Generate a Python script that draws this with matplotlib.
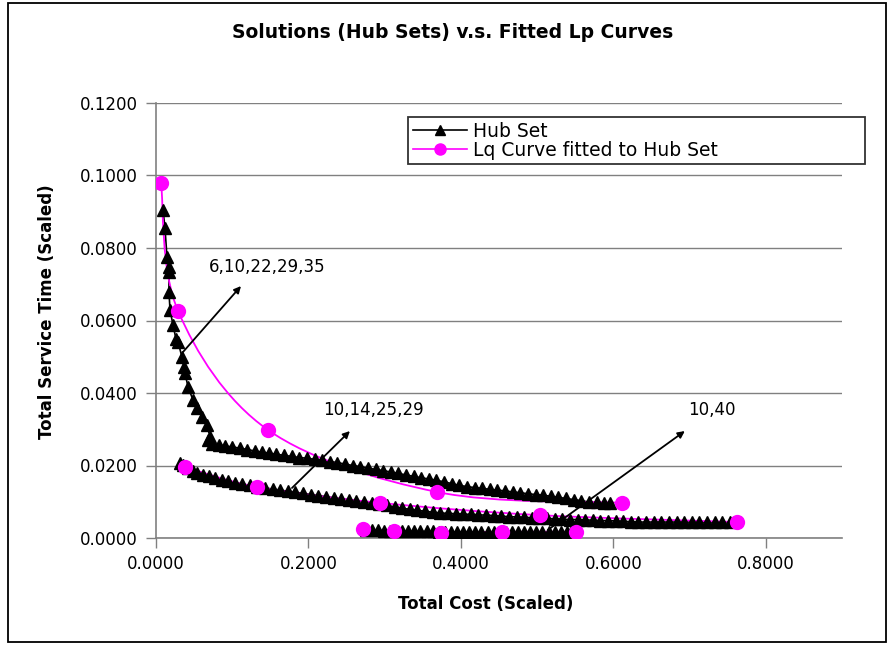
import numpy as np
import matplotlib.pyplot as plt
from matplotlib.path import Path
from matplotlib.patches import PathPatch, Rectangle
from matplotlib.lines import Line2D

plt.rcParams['font.family'] = ['DejaVu Sans']

# Hub set, three groups of solutions
upper_x = [0.0092, 0.0118, 0.0144, 0.0165, 0.0170, 0.0170, 0.0184, 0.0223, 0.0262, 0.0289,
           0.0341, 0.0367, 0.0380, 0.0420, 0.0485, 0.0538, 0.0603, 0.0669, 0.0708, 0.0682,
           0.074, 0.082, 0.091, 0.100, 0.110, 0.120, 0.130, 0.139, 0.148, 0.158,
           0.168, 0.178, 0.188, 0.198, 0.208, 0.218, 0.228, 0.238, 0.248, 0.258,
           0.268, 0.278, 0.288, 0.298, 0.308, 0.318, 0.328, 0.338, 0.348, 0.358,
           0.368, 0.378, 0.388, 0.398, 0.408, 0.418, 0.428, 0.438, 0.448, 0.458,
           0.468, 0.478, 0.488, 0.498, 0.508, 0.518, 0.528, 0.538, 0.548, 0.558,
           0.568, 0.578, 0.588, 0.595]
upper_y = [0.0905, 0.0855, 0.0775, 0.0748, 0.0734, 0.0679, 0.0629, 0.0588, 0.0549, 0.0541,
           0.0499, 0.0472, 0.0455, 0.0417, 0.0381, 0.0359, 0.0334, 0.0312, 0.0279, 0.0270,
           0.0260, 0.0257, 0.0254, 0.0251, 0.0248, 0.0244, 0.0240, 0.0237, 0.0234, 0.0231,
           0.0228, 0.0225, 0.0222, 0.0220, 0.0217, 0.0214, 0.0211, 0.0208, 0.0204, 0.0200,
           0.0197, 0.0193, 0.0189, 0.0186, 0.0182, 0.0178, 0.0174, 0.0170, 0.0166, 0.0163,
           0.0159, 0.0155, 0.0150, 0.0145, 0.0142, 0.0139, 0.0137, 0.0134, 0.0132, 0.0130,
           0.0127, 0.0125, 0.0122, 0.0120, 0.0118, 0.0115, 0.0112, 0.0109, 0.0106, 0.0103,
           0.0099, 0.0098, 0.0097, 0.0097]

middle_x = [0.031, 0.036, 0.042, 0.048, 0.054, 0.062, 0.070, 0.078, 0.086, 0.094,
            0.103, 0.113, 0.123, 0.133, 0.143, 0.153, 0.163, 0.173, 0.183, 0.193,
            0.203, 0.213, 0.223, 0.233, 0.243, 0.253, 0.263, 0.273, 0.283, 0.293,
            0.303, 0.313, 0.323, 0.333, 0.343, 0.353, 0.363, 0.373, 0.383, 0.393,
            0.403, 0.413, 0.423, 0.433, 0.443, 0.453, 0.463, 0.473, 0.483, 0.493,
            0.503, 0.513, 0.523, 0.533, 0.543, 0.553, 0.563, 0.573, 0.583, 0.593,
            0.603, 0.613, 0.623, 0.633, 0.643, 0.653, 0.663, 0.673, 0.683, 0.693,
            0.703, 0.713, 0.723, 0.733, 0.743, 0.753]
middle_y = [0.0207, 0.0201, 0.0194, 0.0186, 0.0179, 0.0175, 0.0170, 0.0166, 0.0161, 0.0157,
            0.0153, 0.0149, 0.0145, 0.0141, 0.0138, 0.0135, 0.0132, 0.0129, 0.0126, 0.0123,
            0.0120, 0.0117, 0.0114, 0.0111, 0.0108, 0.0106, 0.0103, 0.0100, 0.0097, 0.0094,
            0.0090, 0.0086, 0.0082, 0.0079, 0.0076, 0.0074, 0.0071, 0.0069, 0.0068, 0.0067,
            0.0066, 0.0065, 0.0064, 0.0063, 0.0062, 0.0060, 0.0059, 0.0058, 0.0057, 0.0056,
            0.0055, 0.0054, 0.0053, 0.0052, 0.0051, 0.0051, 0.0050, 0.0049, 0.0048, 0.0048,
            0.0047, 0.0046, 0.0045, 0.0044, 0.0044, 0.0044, 0.0044, 0.0044, 0.0044, 0.0044,
            0.0044, 0.0044, 0.0044, 0.0044, 0.0044, 0.0044]

lower_x = [0.275, 0.283, 0.291, 0.299, 0.307, 0.315, 0.323, 0.331, 0.339, 0.347,
           0.355, 0.363, 0.371, 0.379, 0.387, 0.395, 0.403, 0.411, 0.419, 0.427,
           0.435, 0.443, 0.451, 0.459, 0.467, 0.475, 0.483, 0.491, 0.499, 0.507,
           0.515, 0.523, 0.531, 0.539, 0.545]
lower_y = [0.0022, 0.0021, 0.0021, 0.0020, 0.0020, 0.0019, 0.0019, 0.0019, 0.0018, 0.0018,
           0.0018, 0.0018, 0.0017, 0.0017, 0.0017, 0.0017, 0.0017, 0.0017, 0.0017, 0.0017,
           0.0017, 0.0017, 0.0017, 0.0017, 0.0017, 0.0017, 0.0017, 0.0017, 0.0016, 0.0016,
           0.0016, 0.0016, 0.0016, 0.0016, 0.0016]

# Lq curves fitted to each group
lq_upper_x = [0.0066, 0.029, 0.147, 0.3685, 0.611]
lq_upper_y = [0.0979, 0.0626, 0.0298, 0.0127, 0.0097]
lq_middle_x = [0.038, 0.132, 0.294, 0.504, 0.762]
lq_middle_y = [0.0196, 0.0141, 0.0097, 0.0063, 0.0044]
lq_lower_x = [0.271, 0.312, 0.374, 0.454, 0.551]
lq_lower_y = [0.0025, 0.0019, 0.0014, 0.0017, 0.0017]

# annotation labels: text, text position, arrow tail, arrow head
notes = [("6,10,22,29,35", (0.0695, 0.0748), (0.0354, 0.0513), (0.1115, 0.0695)),
         ("10,14,25,29", (0.219, 0.0353), (0.1784, 0.0138), (0.2544, 0.0295)),
         ("10,40", (0.6977, 0.0353), (0.514, 0.0022), (0.6938, 0.0295))]

y_ticks = [0.0, 0.02, 0.04, 0.06, 0.08, 0.10, 0.12]
x_ticks = [0.0, 0.2, 0.4, 0.6, 0.8]

MAGENTA = '#ff00ff'
GRAY = '#808080'


def smooth_path(xs, ys):
    # bezier smoothing like a spreadsheet "smoothed line"
    p = np.column_stack([xs, ys])
    n = len(p)
    verts = [p[0]]
    codes = [Path.MOVETO]
    for i in range(n - 1):
        p0 = p[max(i - 1, 0)]
        p1 = p[i]
        p2 = p[i + 1]
        p3 = p[min(i + 2, n - 1)]
        verts += [p1 + (p2 - p0) / 6, p2 - (p3 - p1) / 6, p2]
        codes += [Path.CURVE4] * 3
    return Path(verts, codes)


fig = plt.figure(figsize=(8.88, 6.46), dpi=100)
fig.patches.append(Rectangle((8 / 888, 4 / 646), 878 / 888, 639 / 646, transform=fig.transFigure,
                             fill=False, edgecolor='black', linewidth=1.3))

ax = fig.add_axes([156 / 888, 1 - 538 / 646, 686 / 888, 435 / 646])
ax.set_xlim(0, 0.9)
ax.set_ylim(0, 0.12)

hub_x = upper_x + [np.nan] + middle_x + [np.nan] + lower_x
hub_y = upper_y + [np.nan] + middle_y + [np.nan] + lower_y

ax.plot(hub_x, hub_y, color='black', linewidth=1.2, zorder=2)
for xs, ys in [(lq_upper_x, lq_upper_y), (lq_middle_x, lq_middle_y), (lq_lower_x, lq_lower_y)]:
    ax.add_patch(PathPatch(smooth_path(xs, ys), facecolor='none', edgecolor=MAGENTA,
                           linewidth=1.3, zorder=3))
ax.plot(hub_x, hub_y, linestyle='none', marker='^', markersize=8.5, color='black', zorder=4)
for xs, ys in [(lq_upper_x, lq_upper_y), (lq_middle_x, lq_middle_y), (lq_lower_x, lq_lower_y)]:
    ax.plot(xs, ys, linestyle='none', marker='o', markersize=11, color=MAGENTA,
            markeredgewidth=0, zorder=5)

for txt, tpos, tail, head in notes:
    ax.annotate('', xy=head, xytext=tail,
                arrowprops=dict(arrowstyle='-|>', color='black', lw=1.3,
                                mutation_scale=10, shrinkA=0, shrinkB=0), zorder=6)
    ax.text(tpos[0], tpos[1], txt, fontsize=12, ha='left', va='center', zorder=6)

ax.set_yticks(y_ticks)
ax.set_xticks(x_ticks)
ax.set_yticklabels(['%.4f' % v for v in y_ticks])
ax.set_xticklabels(['%.4f' % v for v in x_ticks])
ax.yaxis.grid(True, color=GRAY, linewidth=1)
ax.set_axisbelow(True)
for s in ['top', 'right']:
    ax.spines[s].set_visible(False)
for s in ['left', 'bottom']:
    ax.spines[s].set_color(GRAY)
    ax.spines[s].set_linewidth(1.2)
ax.tick_params(axis='both', direction='out', length=7, color=GRAY, labelsize=12, width=1)
ax.tick_params(axis='y', pad=6)
ax.tick_params(axis='x', pad=5)

handles = [Line2D([], [], color='black', marker='^', markersize=7, linewidth=1.2),
           Line2D([], [], color=MAGENTA, marker='o', markersize=8, linewidth=1.2)]
leg = fig.legend(handles, ['Hub Set', 'Lq Curve fitted to Hub Set'],
                 loc='upper left', bbox_to_anchor=(408 / 888, 1 - 117 / 646, 457 / 888, 0.0),
                 mode='expand', fontsize=13.5, frameon=True, fancybox=False,
                 labelspacing=0.0, handlelength=2.9, handletextpad=0.3,
                 borderpad=0.25, borderaxespad=0)
leg.get_frame().set_edgecolor('black')
leg.get_frame().set_linewidth(1.3)

fig.text(453 / 888, 1 - 33 / 646, 'Solutions (Hub Sets) v.s. Fitted Lp Curves',
         ha='center', va='center', fontsize=13.5, fontweight='bold')
fig.text(486 / 888, 1 - 604 / 646, 'Total Cost (Scaled)',
         ha='center', va='center', fontsize=12, fontweight='bold')
fig.text(47 / 888, 1 - 312 / 646, 'Total Service Time (Scaled)', rotation=90,
         ha='center', va='center', fontsize=12, fontweight='bold')

fig.savefig('out.png', dpi=100)
